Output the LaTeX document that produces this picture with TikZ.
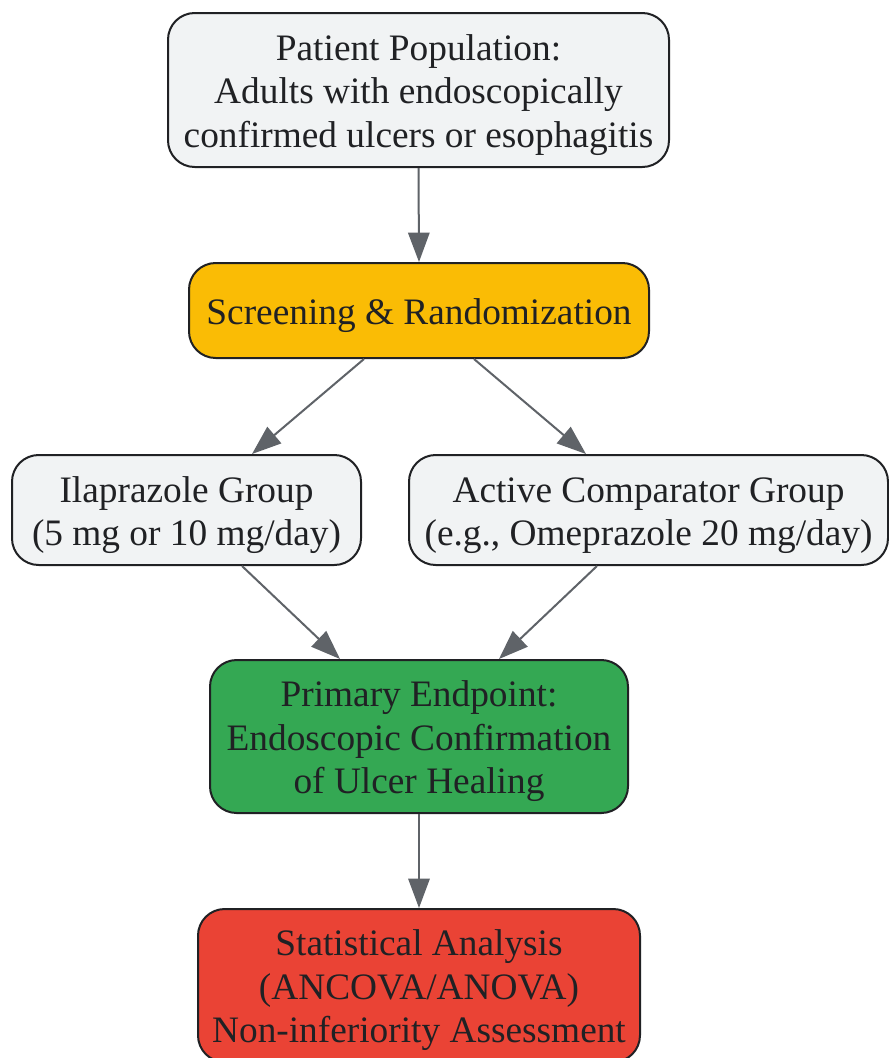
\documentclass[tikz,border=0pt]{standalone}
\usepackage{fontspec}
\setmainfont{Liberation Serif}
\usetikzlibrary{arrows.meta,calc}
\definecolor{boxgray}{HTML}{F1F3F4}
\definecolor{edgedark}{HTML}{202124}
\definecolor{arrowgray}{HTML}{5F6368}
\definecolor{gyellow}{HTML}{FABC05}
\definecolor{ggreen}{HTML}{34A853}
\definecolor{gred}{HTML}{EA4335}
\newcommand\txtdown{\rule{0pt}{\dimexpr0.69em+7.5pt\relax}}
\tikzset{
  box/.style={draw=edgedark, line width=1.5pt, rounded corners=20pt, align=center,
    text=edgedark, inner sep=0pt,
    font=\fontsize{28pt}{32.6pt}\selectfont},
  flow/.style={draw=arrowgray, line width=1.5pt, -{Triangle[length=22pt,width=16pt]}},
}
\begin{document}
\begin{tikzpicture}[x=0.75pt,y=-0.75pt]
\clip (0,0) rectangle (889,1058);
\fill[white] (0,0) rectangle (889,1058);
\node[box, fill=boxgray, minimum width=501*0.75pt, minimum height=154*0.75pt] (pop) at (418.5,90)
  {\txtdown Patient Population:\\Adults with endoscopically\\confirmed ulcers or esophagitis};
\node[box, fill=gyellow, minimum width=460*0.75pt, minimum height=95*0.75pt] (scr) at (419,310.5)
  {\txtdown Screening \& Randomization};
\node[box, fill=boxgray, minimum width=349*0.75pt, minimum height=110*0.75pt] (ila) at (186.5,510)
  {\txtdown Ilaprazole Group\\(5 mg or 10 mg/day)};
\node[box, fill=boxgray, minimum width=479*0.75pt, minimum height=110*0.75pt] (act) at (648.5,510)
  {\txtdown Active Comparator Group\\(e.g., Omeprazole 20 mg/day)};
\node[box, fill=ggreen, minimum width=418*0.75pt, minimum height=153*0.75pt] (prim) at (419,736.5)
  {\txtdown Primary Endpoint:\\Endoscopic Confirmation\\of Ulcer Healing};
\node[box, fill=gred, minimum width=442*0.75pt, minimum height=153*0.75pt] (stat) at (419,985.5)
  {\txtdown Statistical Analysis\\(ANCOVA/ANOVA)\\Non-inferiority Assessment};
\draw[flow] (pop.south) -- (scr.north);
\draw[flow] ([xshift=-55*0.75pt]scr.south) -- ([xshift=65.5*0.75pt]ila.north);
\draw[flow] ([xshift=55*0.75pt]scr.south) -- ([xshift=-62.5*0.75pt]act.north);
\draw[flow] ([xshift=55.5*0.75pt]ila.south) -- ([xshift=-79*0.75pt]prim.north);
\draw[flow] ([xshift=-51.5*0.75pt]act.south) -- ([xshift=80*0.75pt]prim.north);
\draw[flow] (prim.south) -- (stat.north);
\end{tikzpicture}
\end{document}
